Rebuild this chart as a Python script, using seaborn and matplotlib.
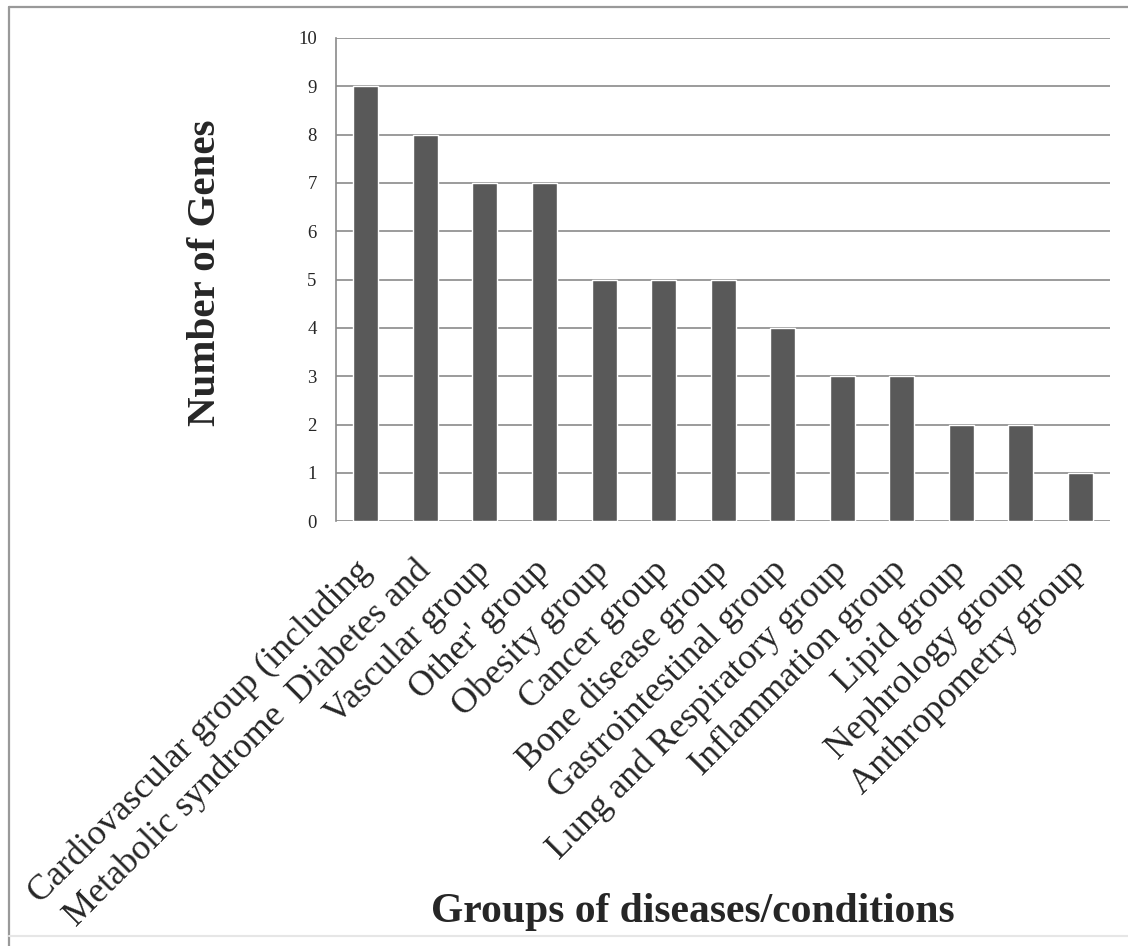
import numpy as np
import pandas as pd
import matplotlib
matplotlib.use("Agg")
import matplotlib.pyplot as plt
import seaborn as sns

# Datos del grafico
grupos = [
    "Cardiovascular group (including",
    "Metabolic syndrome  Diabetes and",
    "Vascular group",
    "Other' group",
    "Obesity group",
    "Cancer group",
    "Bone disease group",
    "Gastrointestinal group",
    "Lung and Respiratory group",
    "Inflammation group",
    "Lipid group",
    "Nephrology group",
    "Anthropometry group",
]
num_genes = [9, 8, 7, 7, 5, 5, 5, 4, 3, 3, 2, 2, 1]
ticks_y = list(range(0, 11))

sns.set_theme(style="white")
plt.rcParams['font.family'] = ['Liberation Serif', 'DejaVu Serif']

df = pd.DataFrame({'Grupo': grupos, 'Genes': num_genes})

fig = plt.figure(figsize=(11.28, 9.46), dpi=100)
ax = fig.add_axes([0.298, 0.449, 0.686, 0.511])

sns.barplot(data=df, x='Grupo', y='Genes', color='#595959', width=0.42,
            saturation=1, ax=ax, zorder=3)

ax.set_ylim(0, 10)
ax.set_yticks(ticks_y)
ax.set_yticklabels([str(t) for t in ticks_y], fontsize=13.5)
ax.yaxis.grid(True, color='#8a8a8a', linewidth=1.2, zorder=0)
ax.set_axisbelow(True)
ax.tick_params(axis='y', length=0, pad=14)
ax.tick_params(axis='x', length=0, pad=32)
ax.set_xticks(range(len(grupos)))
ax.set_xticklabels(grupos, rotation=45, ha='right', va='center',
                   rotation_mode='anchor', fontsize=26)

for s in ['top', 'right', 'bottom']:
    ax.spines[s].set_visible(False)
ax.spines['left'].set_color('#8a8a8a')
ax.spines['left'].set_linewidth(1.2)

ax.set_xlabel('')
ax.set_ylabel('')
fig.text(0.182, 0.712, 'Number of Genes', rotation=90, ha='center', va='center',
         fontsize=29.5, fontweight='bold')
fig.text(0.614, 0.036, 'Groups of diseases/conditions', ha='center', va='center',
         fontsize=30, fontweight='bold')

# Marco exterior (solo superior e izquierdo visibles, inferior tenue)
fig.add_artist(plt.Line2D([0.008, 1.0], [0.993, 0.993], transform=fig.transFigure,
                          color='#999999', linewidth=1.6))
fig.add_artist(plt.Line2D([0.008, 0.008], [0.0, 0.993], transform=fig.transFigure,
                          color='#999999', linewidth=1.6))
fig.add_artist(plt.Line2D([0.008, 1.0], [0.011, 0.011], transform=fig.transFigure,
                          color='#e6e6e6', linewidth=1.5))

fig.savefig('out.png', dpi=100)
